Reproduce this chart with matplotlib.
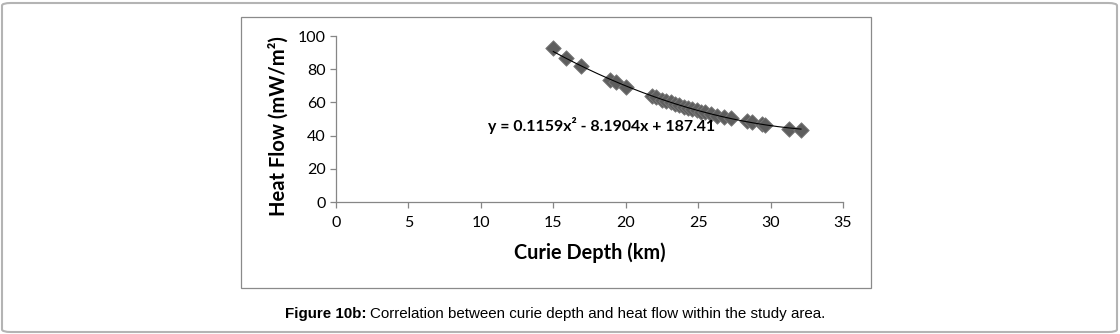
import numpy as np
import matplotlib
matplotlib.use("Agg")
import matplotlib.pyplot as plt
from matplotlib.patches import FancyBboxPatch, Rectangle

# données
curie_depth = [15.0, 15.9, 16.9, 18.9, 19.3, 20.0, 21.8, 22.1, 22.5, 22.8,
               23.1, 23.4, 23.7, 24.0, 24.3, 24.6, 24.9, 25.2, 25.5, 25.9,
               26.3, 26.8, 27.3, 28.4, 28.7, 29.4, 29.6, 31.3, 32.1]
heat_flow = [92.5, 86.8, 81.8, 73.5, 72.0, 69.5, 64.0, 63.2, 61.5, 61.0,
             60.2, 59.0, 58.5, 57.4, 56.8, 56.3, 55.5, 54.5, 54.0, 53.2,
             52.0, 51.5, 50.5, 48.8, 48.0, 47.0, 46.6, 44.2, 43.5]
coef = [0.1159, -8.1904, 187.41]   # tendance polynomiale affichée
equation = "y = 0.1159x\u00b2 - 8.1904x + 187.41"
x_ticks = [0, 5, 10, 15, 20, 25, 30, 35]
y_ticks = [0, 20, 40, 60, 80, 100]

W, H = 1120, 334
fig = plt.figure(figsize=(W/100, H/100), dpi=100)

# cadre extérieur arrondi
fig.patches.append(FancyBboxPatch((2/W, 2/H), 1115/W, 329/H,
                                  boxstyle="round,pad=0,rounding_size=0.008",
                                  transform=fig.transFigure, fill=False,
                                  ec="#b4b4b4", lw=1.5))
# cadre du graphique
fig.patches.append(Rectangle((241/W, 1-288/H), 630/W, 271/H,
                             transform=fig.transFigure, fill=False,
                             ec="#8a8a8a", lw=0.9))

ax = fig.add_axes([336/W, 1-202/H, 507/W, 166/H])
ax.set_xlim(0, 35)
ax.set_ylim(0, 100)
for s in ["top", "right"]:
    ax.spines[s].set_visible(False)
for s in ["left", "bottom"]:
    ax.spines[s].set_color("#868686")
    ax.spines[s].set_linewidth(0.9)
ax.set_xticks(x_ticks)
ax.set_yticks(y_ticks)
ax.tick_params(colors="#868686", length=4, width=0.9, labelcolor="black",
               labelsize=11.5)
for lab in ax.get_xticklabels() + ax.get_yticklabels():
    lab.set_family("Lato")
ax.tick_params(axis="x", pad=6)

ax.scatter(curie_depth, heat_flow, marker="D", s=62, color="#5e5e5e",
           edgecolors="#7a7a7a", linewidths=0.6, zorder=3)
xf = np.linspace(min(curie_depth), max(curie_depth), 200)
ax.plot(xf, np.polyval(coef, xf), color="black", lw=0.8, zorder=4)

ax.text(10.5, 45.8, equation, fontsize=11.4, fontweight="bold", family="Lato",
        va="center", ha="left", color="black", zorder=5)

ax.set_xlabel("Curie Depth (km)", fontsize=14.3, fontweight="bold",
              family="Lato", labelpad=9)
ax.set_ylabel("Heat Flow (mW/m\u00b2)", fontsize=14.5, fontweight="bold",
              family="Lato")
ax.yaxis.set_label_coords(-0.094, 0.46)

# légende de la figure : partie grasse + partie normale
fig.canvas.draw()
r = fig.canvas.get_renderer()
t1 = fig.text(285/W, 1-314/H, "Figure 10b:", fontsize=10.9, fontweight="bold",
              family="Liberation Sans", va="center", ha="left")
bb = t1.get_window_extent(r)
fig.text((bb.x1 + 3)/W, 1-314/H,
         "Correlation between curie depth and heat flow within the study area.",
         fontsize=10.9, family="Liberation Sans", va="center", ha="left")

fig.savefig("out.png", dpi=100)
